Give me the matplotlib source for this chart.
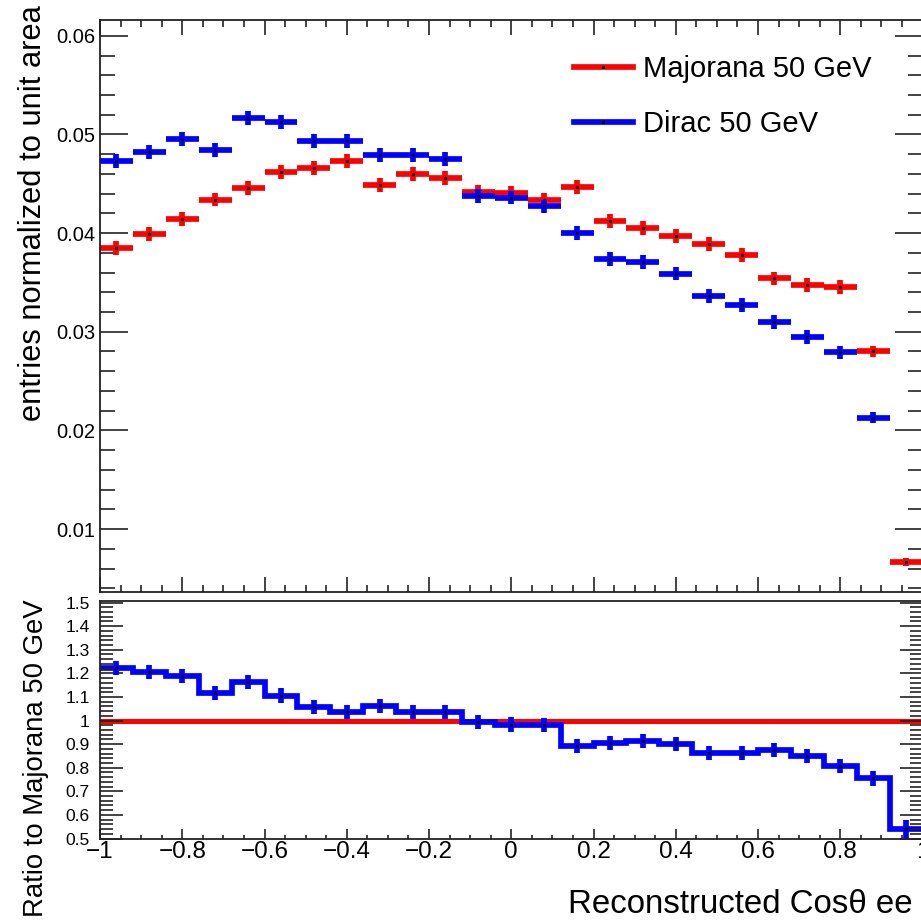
import numpy as np
import matplotlib
matplotlib.use("Agg")
import matplotlib.pyplot as plt
from matplotlib.ticker import MultipleLocator, FuncFormatter
from matplotlib.lines import Line2D

plt.rcParams['font.family'] = ['Liberation Sans', 'DejaVu Sans']

# ---------------- data ----------------
n_bins = 25
x_low, x_high = -1.0, 1.0

majorana = [0.0385, 0.0399, 0.0414, 0.0434, 0.0446, 0.0462, 0.0466, 0.0473,
            0.0449, 0.0460, 0.0456, 0.0442, 0.0441, 0.0434, 0.0447, 0.0412,
            0.0405, 0.0397, 0.0389, 0.0378, 0.0354, 0.0347, 0.0345, 0.0280,
            0.0067]
majorana_err = [0.0007, 0.0007, 0.0007, 0.0007, 0.0007, 0.0007, 0.0007, 0.0007,
                0.0007, 0.0007, 0.0007, 0.0007, 0.0007, 0.0007, 0.0007, 0.0007,
                0.0007, 0.0007, 0.0007, 0.0007, 0.0007, 0.0007, 0.0007, 0.0006,
                0.0004]
dirac = [0.0473, 0.0482, 0.0495, 0.0484, 0.0517, 0.0513, 0.0493, 0.0493,
         0.0479, 0.0479, 0.0475, 0.0438, 0.0436, 0.0427, 0.0400, 0.0374,
         0.0371, 0.0359, 0.0336, 0.0327, 0.0310, 0.0295, 0.0279, 0.0213,
         0.0036]
dirac_err = [0.0007, 0.0007, 0.0007, 0.0007, 0.0007, 0.0007, 0.0007, 0.0007,
             0.0007, 0.0007, 0.0007, 0.0007, 0.0007, 0.0007, 0.0007, 0.0007,
             0.0007, 0.0007, 0.0007, 0.0007, 0.0007, 0.0007, 0.0007, 0.0006,
             0.0003]
ratio_dirac = [1.223, 1.207, 1.190, 1.115, 1.162, 1.106, 1.056, 1.038,
               1.060, 1.038, 1.038, 0.993, 0.983, 0.980, 0.893, 0.906,
               0.915, 0.901, 0.862, 0.862, 0.876, 0.848, 0.807, 0.756,
               0.542]
ratio_dirac_err = [0.03, 0.03, 0.03, 0.03, 0.03, 0.03, 0.03, 0.03,
                   0.03, 0.03, 0.03, 0.03, 0.03, 0.03, 0.03, 0.03,
                   0.03, 0.03, 0.03, 0.03, 0.03, 0.03, 0.03, 0.032,
                   0.038]

series_labels = ["Majorana 50 GeV", "Dirac 50 GeV"]
x_title = "Reconstructed Cos\u03b8 ee"
y_title_top = "entries normalized to unit area"
y_title_ratio = "Ratio to Majorana 50 GeV"

# ---------------- derived binning ----------------
edges = np.linspace(x_low, x_high, n_bins + 1)
centers = 0.5 * (edges[:-1] + edges[1:])
half = 0.5 * np.diff(edges)
ratio_majorana = np.array(majorana) / np.array(majorana)

Y_MIN, Y_MAX = 0.00365, 0.0616

RED = '#ff0000'
BLUE = '#0000ff'

W = H = 921
fig = plt.figure(figsize=(W / 100, H / 100), dpi=100)


def fx(px):
    return px / W


def fy(py):
    return 1 - py / H


L, R = 100, 922.5
ax = fig.add_axes([fx(L), fy(591.7), fx(R) - fx(L), fy(20) - fy(591.7)])
axr = fig.add_axes([fx(L), fy(838.5), fx(R) - fx(L), fy(600.7) - fy(838.5)])

LW = 4.1


def draw_hist_points(axis, vals, errs, color):
    vals = np.asarray(vals)
    errs = np.asarray(errs)
    m = vals >= Y_MIN  # like ROOT: points below the frame are not drawn
    axis.errorbar(centers[m], vals[m], xerr=half[m], yerr=errs[m], fmt='none',
                  ecolor=color, elinewidth=LW, capsize=0)
    axis.plot(centers[m], vals[m], ls='none', marker='s', ms=1.3, color='k')


# ---------------- upper panel ----------------
draw_hist_points(ax, majorana, majorana_err, RED)
draw_hist_points(ax, dirac, dirac_err, BLUE)

ax.set_xlim(x_low, x_high)
ax.set_ylim(Y_MIN, Y_MAX)
ax.xaxis.set_major_locator(MultipleLocator(0.2))
ax.xaxis.set_minor_locator(MultipleLocator(0.05))
ax.yaxis.set_major_locator(MultipleLocator(0.01))
ax.yaxis.set_minor_locator(MultipleLocator(0.002))
ax.yaxis.set_major_formatter(FuncFormatter(lambda v, p: f"{v:.2f}"))
ax.tick_params(which='both', direction='in', top=True, right=True,
               labelbottom=False, width=1.2, color='#222222')
ax.tick_params(axis='x', which='major', length=10.8)
ax.tick_params(axis='x', which='minor', length=5)
ax.tick_params(axis='y', which='major', length=20, labelsize=14.5, pad=3.5)
ax.tick_params(axis='y', which='minor', length=11)
for s in ax.spines.values():
    s.set_linewidth(1.3)
    s.set_color('#222222')

handles = [Line2D([], [], color=RED, lw=LW, marker='s', ms=1.3, mfc='k', mec='k'),
           Line2D([], [], color=BLUE, lw=LW, marker='s', ms=1.3, mfc='k', mec='k')]
ax.legend(handles, series_labels, loc='upper left',
          bbox_to_anchor=(fx(574), fy(55)), bbox_transform=fig.transFigure,
          frameon=False, fontsize=21, handlelength=2.02, handletextpad=0.34,
          labelspacing=0.92, borderpad=0, borderaxespad=0)

# ---------------- ratio panel ----------------
axr.stairs(ratio_majorana, edges, color=RED, lw=3.6, baseline=None)
axr.stairs(ratio_dirac, edges, color=BLUE, lw=LW, baseline=None)
axr.errorbar(centers, ratio_dirac, yerr=ratio_dirac_err, fmt='none',
             ecolor=BLUE, elinewidth=LW, capsize=0)
axr.plot(centers, ratio_dirac, ls='none', marker='s', ms=1.3, color='k')

axr.set_xlim(x_low, x_high)
axr.set_ylim(0.5, 1.508)
axr.xaxis.set_major_locator(MultipleLocator(0.2))
axr.xaxis.set_minor_locator(MultipleLocator(0.05))
axr.yaxis.set_major_locator(MultipleLocator(0.1))
axr.yaxis.set_minor_locator(MultipleLocator(0.02))
axr.xaxis.set_major_formatter(
    FuncFormatter(lambda v, p: f"{round(v, 3) + 0:g}".replace('-', '\u2212')))
axr.yaxis.set_major_formatter(FuncFormatter(lambda v, p: f"{round(v, 3):g}"))
axr.tick_params(which='both', direction='in', top=False, right=True,
                width=1.2, color='#222222')
axr.tick_params(axis='x', which='major', length=7.5, labelsize=17.5, pad=2)
axr.tick_params(axis='x', which='minor', length=3.2)
axr.tick_params(axis='y', which='major', length=16.5, labelsize=12.5, pad=7.5)
axr.tick_params(axis='y', which='minor', length=9.5)
for s in axr.spines.values():
    s.set_linewidth(1.3)
    s.set_color('#222222')

# ---------------- titles ----------------
fig.text(fx(568), fy(913), x_title, fontsize=23.8, ha='left', va='baseline')
fig.text(fx(48), fy(5), y_title_top, rotation=90, fontsize=22.2,
         ha='right', va='top')
fig.text(fx(49), fy(599), y_title_ratio, rotation=90, fontsize=19.8,
         ha='right', va='top')

fig.savefig('out.png', dpi=100)
